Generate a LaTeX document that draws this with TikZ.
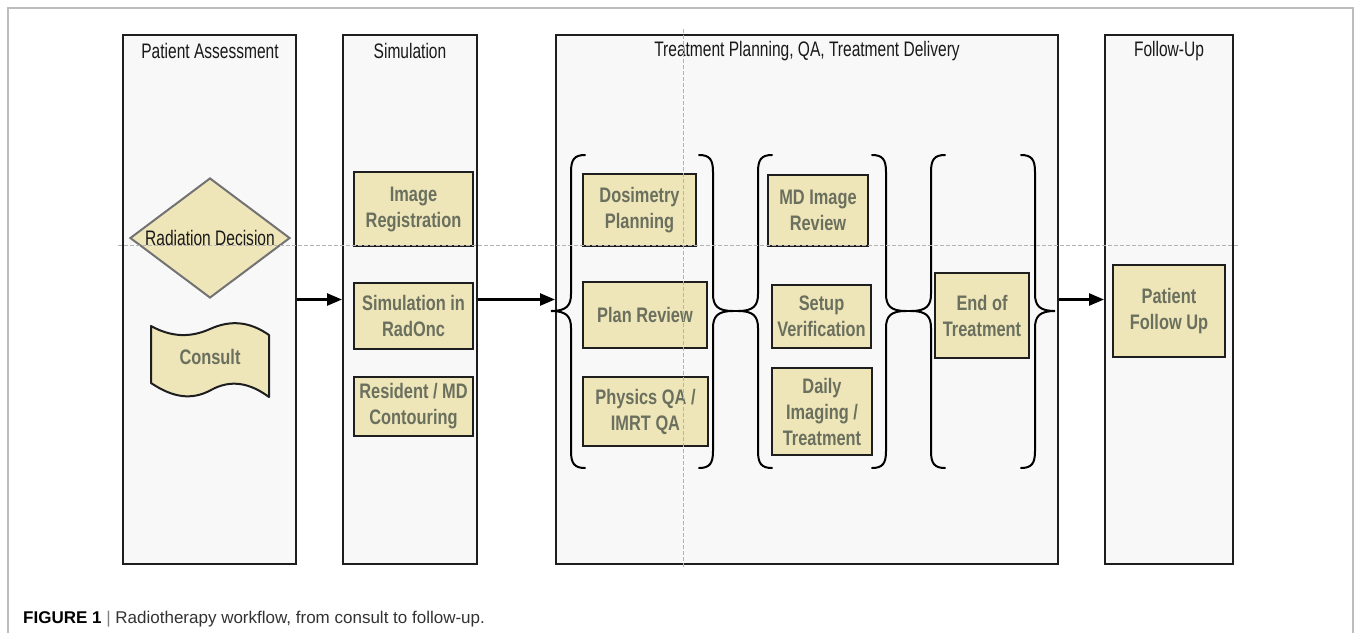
\documentclass[tikz,border=0pt]{standalone}
\usepackage{fontspec}
\setmainfont{Liberation Sans}
\newfontfamily\lanefont[FakeStretch=0.74]{Liberation Sans}
\newfontfamily\stepfont[FakeStretch=0.78]{Liberation Sans}
\usetikzlibrary{arrows.meta,shapes.geometric}

\definecolor{beige}{HTML}{EEE6B9}
\definecolor{lanefill}{HTML}{F8F8F8}
\definecolor{steptext}{HTML}{6B705E}
\definecolor{edge}{HTML}{1E1E1E}
\definecolor{framegray}{HTML}{BDBDBD}
\definecolor{guidegray}{HTML}{B4B4B4}
\definecolor{captiontext}{HTML}{333333}

\tikzset{
  lane/.style={draw=edge, line width=2pt, fill=lanefill, inner sep=0pt,
    minimum width=#1, minimum height=529pt},
  lanetitle/.style={font=\lanefont\fontsize{21}{25}\selectfont, text=black!90, inner sep=0pt},
  steptextstyle/.style={text=steptext, font=\stepfont\bfseries\fontsize{21}{26}\selectfont},
  stepbox/.style={steptextstyle, draw=edge, line width=2.2pt, fill=beige,
    align=center, inner sep=0pt},
  decision/.style={diamond, aspect=1.333, draw=black!55, line width=2pt, fill=beige,
    minimum width=160pt, minimum height=120pt, inner sep=0pt,
    font=\lanefont\fontsize{21}{25}\selectfont, text=black!90},
  bracestroke/.style={draw=black, line width=2pt, line cap=round},
  flow/.style={draw=black, line width=2.5pt, -{Triangle[length=15pt,width=12pt]}},
  guide/.style={draw=guidegray, line width=0.7pt, dash pattern=on 4pt off 2pt},
}

% curly brace: #1 = x of the vertical stroke, #2 = +1 for an opening brace,
% -1 for a closing one, #3 = name of the coordinate at its tip
\newcommand\drawcurly[3]{%
  \draw[bracestroke] ({#1+14*#2},155) .. controls ({#1+3*#2},155) and (#1,160) .. (#1,172)
    -- (#1,294) .. controls (#1,306) and ({#1-5*#2},311) .. ({#1-20*#2},311) coordinate (#3)
    .. controls ({#1-5*#2},311) and (#1,316) .. (#1,328)
    -- (#1,451) .. controls (#1,463) and ({#1+3*#2},468) .. ({#1+14*#2},468);
}

\begin{document}
\begin{tikzpicture}[x=1pt, y=-1pt]
  \useasboundingbox[fill=white] (0,0) rectangle (1355,633);

  % outer frame
  \draw[framegray, line width=1.5pt] (8,633) -- (8,8) -- (1353,8) -- (1353,633);

  % swim lanes
  \node[lane=173pt] (pa)  at (209.5,299.5) {};
  \node[lane=134pt] (sim) at (410,299.5) {};
  \node[lane=502pt] (tp)  at (807,299.5) {};
  \node[lane=128pt] (fu)  at (1169,299.5) {};

  \node[lanetitle] (paT)  at (210,51) {Patient Assessment};
  \node[lanetitle] (simT) at (410,51) {Simulation};
  \node[lanetitle] (tpT)  at (807,51) {Treatment Planning, QA, Treatment Delivery};
  \node[lanetitle] (fuT)  at (1169,51) {Follow-Up};

  % patient assessment
  \node[decision] (decide) at (210,238) {Radiation Decision};
  \filldraw[fill=beige, draw=edge, line width=2pt, line join=round]
    (151,326) .. controls (171,337) and (190,338) .. (210,329)
    .. controls (230,320) and (249,321) .. (269,335)
    -- (269,397)
    .. controls (250,383) and (231,379) .. (211,390)
    .. controls (191,401) and (172,397) .. (151,383) -- cycle;
  \node[steptextstyle, inner sep=0pt] (consult) at (210,357) {Consult};

  % simulation
  \node[stepbox, minimum width=119pt, minimum height=74pt] (imgreg) at (413.5,209) {Image\\Registration};
  \node[stepbox, minimum width=119pt, minimum height=66pt] (simrad) at (413.5,316) {Simulation in\\RadOnc};
  \node[stepbox, minimum width=119pt, minimum height=59pt] (contour) at (413.5,406.5) {Resident / MD\\Contouring};

  % brace groups
  \drawcurly{571}{1}{g1L}
  \drawcurly{713}{-1}{g1R}
  \drawcurly{758}{1}{g2L}
  \drawcurly{886}{-1}{g2R}
  \drawcurly{931}{1}{g3L}
  \drawcurly{1035}{-1}{g3R}
  \draw[bracestroke] (g1R) -- (g2L);
  \draw[bracestroke] (g2R) -- (g3L);

  % planning, QA and delivery
  \node[stepbox, minimum width=113pt, minimum height=72pt] (dosi) at (639.5,210) {Dosimetry\\Planning};
  \node[stepbox, minimum width=124pt, minimum height=66pt] (planrev) at (645,315) {Plan Review};
  \node[stepbox, minimum width=125pt, minimum height=69pt] (physqa) at (645.5,411.5) {Physics QA /\\IMRT QA};
  \node[stepbox, minimum width=100pt, minimum height=71pt] (mdimg) at (818,210.5) {MD Image\\Review};
  \node[stepbox, minimum width=99pt, minimum height=63pt] (setup) at (821.5,316.5) {Setup\\Verification};
  \node[stepbox, minimum width=100pt, minimum height=87pt] (daily) at (822,411.5) {Daily\\Imaging /\\Treatment};
  \node[stepbox, minimum width=94pt, minimum height=85pt] (endtx) at (982,315.5) {End of\\Treatment};

  % follow-up
  \node[stepbox, minimum width=112pt, minimum height=92pt] (pfu) at (1169,311) {Patient\\Follow Up};

  % flow between lanes
  \draw[flow] (pa.east) -- (sim.west);
  \draw[flow] (sim.east) -- (tp.west);
  \draw[flow] (tp.east) -- (fu.west);

  % alignment guides
  \draw[guide] (118,245.5) -- (1240,245.5);
  \draw[guide] (683,29) -- (683,568);

  % caption
  \node[anchor=base west, inner sep=0pt, text=captiontext, font=\fontsize{17}{20}\selectfont]
    (caption) at (23,623)
    {\textcolor{black}{\bfseries FIGURE 1} \textcolor{gray}{|} Radiotherapy workflow, from consult to follow-up.};
\end{tikzpicture}
\end{document}
